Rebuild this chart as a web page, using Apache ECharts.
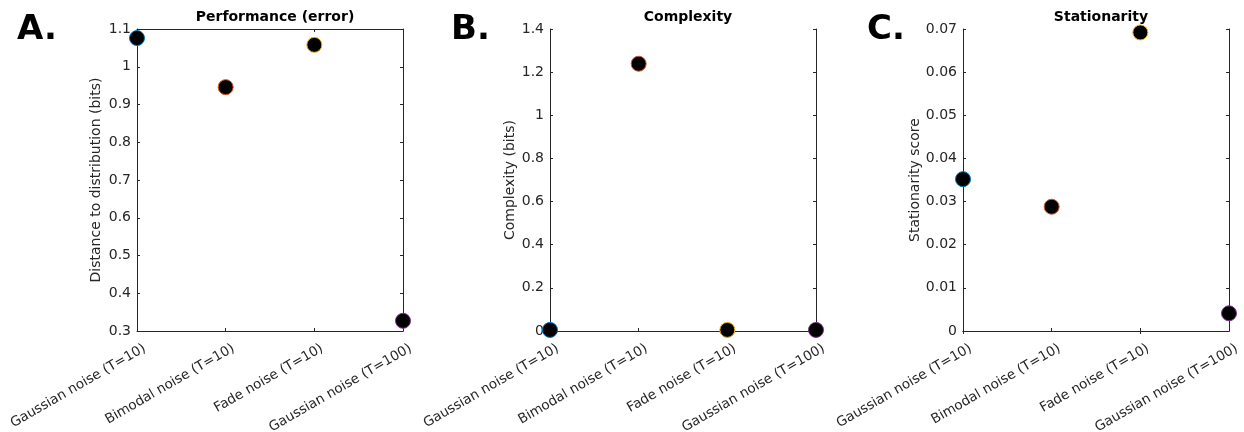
<!DOCTYPE html>
<html><head><meta charset="utf-8">
<script src="https://cdn.jsdelivr.net/npm/echarts@6/dist/echarts.min.js"></script>
<style>html,body{margin:0;padding:0;background:#fff}#c{width:1244px;height:432px}</style>
</head><body><div id="c"></div>
<script>
const categories = ['Gaussian noise (T=10)', 'Bimodal noise (T=10)', 'Fade noise (T=10)', 'Gaussian noise (T=100)'];
const performanceValues = [1.076, 0.946, 1.058, 0.327];
const complexityValues = [0.005, 1.239, 0.005, 0.005];
const stationarityValues = [0.0352, 0.0288, 0.0692, 0.0041];
const panelTitles = ['Performance (error)', 'Complexity', 'Stationarity'];
const yAxisNames = ['Distance to distribution (bits)', 'Complexity (bits)', 'Stationarity score'];
const panelLetters = ['A.', 'B.', 'C.'];
const yRanges = [[0.3, 1.1, 0.1], [0, 1.4, 0.2], [0, 0.07, 0.01]];

const edgeColors = ['#0072BD', '#D95319', '#EDB120', '#7E2F8E'];
const lefts = [137, 550, 963];
const nameGaps = [34, 32, 41];
const W = 266, TOP = 29, BOTTOM = 101;
const axisColor = '#262626';
const font = '"DejaVu Sans", Verdana, sans-serif';
const values = [performanceValues, complexityValues, stationarityValues];

const grid = [], xAxis = [], yAxis = [], series = [], title = [], graphic = [];
for (let i = 0; i < 3; i++) {
  grid.push({left: lefts[i], width: W, top: TOP, bottom: BOTTOM, containLabel: false, outerBoundsMode: 'none'});
  xAxis.push({
    type: 'category', data: categories, gridIndex: i, boundaryGap: false, position: 'bottom',
    axisLine: {show: true, lineStyle: {color: axisColor, width: 1}},
    axisTick: {show: true, inside: true, length: 3, lineStyle: {color: axisColor}},
    axisLabel: {rotate: 30, fontSize: 13.5, fontFamily: font, color: axisColor, margin: 13, interval: 0,
      verticalAlign: 'top', padding: [0, -5, 0, 0]},
    splitLine: {show: false}
  });
  xAxis.push({
    type: 'category', data: categories, gridIndex: i, boundaryGap: false, position: 'top',
    axisLine: {show: true, lineStyle: {color: axisColor, width: 1}},
    axisTick: {show: true, inside: true, length: 3, lineStyle: {color: axisColor}},
    axisLabel: {show: false}, splitLine: {show: false}
  });
  const [mn, mx, iv] = yRanges[i];
  yAxis.push({
    type: 'value', gridIndex: i, min: mn, max: mx, interval: iv, position: 'left',
    name: yAxisNames[i], nameLocation: 'middle', nameGap: nameGaps[i], nameRotate: 90,
    nameTextStyle: {fontSize: 14, fontFamily: font, color: axisColor},
    axisLine: {show: true, lineStyle: {color: axisColor, width: 1}},
    axisTick: {show: true, inside: true, length: 3, lineStyle: {color: axisColor}},
    axisLabel: {fontSize: 14, fontFamily: font, color: axisColor, margin: 6},
    splitLine: {show: false}
  });
  yAxis.push({
    type: 'value', gridIndex: i, min: mn, max: mx, interval: iv, position: 'right',
    axisLine: {show: true, lineStyle: {color: axisColor, width: 1}},
    axisTick: {show: true, inside: true, length: 3, lineStyle: {color: axisColor}},
    axisLabel: {show: false}, splitLine: {show: false}
  });
  series.push({
    type: 'scatter', xAxisIndex: 2 * i, yAxisIndex: 2 * i, symbol: 'circle', symbolSize: 15,
    clip: false, z: 5,
    data: values[i].map((v, j) => ({value: [categories[j], v], itemStyle: {color: '#000', opacity: 1, borderColor: edgeColors[j], borderWidth: 1}}))
  });
  title.push({
    text: panelTitles[i], left: lefts[i] + W / 2, top: 5, textAlign: 'center',
    textStyle: {fontSize: 14, fontWeight: 'bold', fontFamily: font, color: '#000'}
  });
}
const letterX = [17, 451, 867];
for (let i = 0; i < 3; i++) {
  graphic.push({type: 'text', left: letterX[i], top: 13,
    style: {text: panelLetters[i], font: 'bold 34px "DejaVu Sans"', fill: '#000'}});
}

const chart = echarts.init(document.getElementById('c'), null, {renderer: 'canvas'});
chart.setOption({animation: false, backgroundColor: '#fff', title, grid, xAxis, yAxis, series, graphic});
</script></body></html>
